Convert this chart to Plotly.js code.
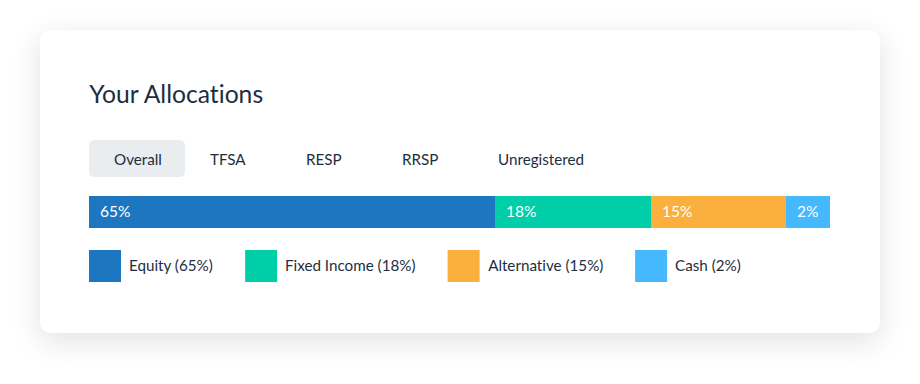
<!DOCTYPE html>
<html>
<head>
<meta charset="utf-8">
<script src="https://cdn.plot.ly/plotly-3.0.1.min.js"></script>
<style>
  html, body { margin: 0; padding: 0; background: #ffffff; width: 920px; height: 384px; overflow: hidden; }
  #card { position: absolute; left: 40px; top: 30px; width: 840px; height: 303px; background: #ffffff;
          border-radius: 10px; box-shadow: 0 8px 30px rgba(0,0,0,0.12); }
  #chart { position: absolute; left: 0; top: 0; width: 920px; height: 384px; }
  #chart text { font-variant-ligatures: none; font-feature-settings: "liga" 0, "clig" 0; }
</style>
</head>
<body>
<div id="card"></div>
<div id="chart"></div>
<script>
// ---- data ----
const chartTitle = "Your Allocations";
const tabs = ["Overall", "TFSA", "RESP", "RRSP", "Unregistered"];
const activeTab = "Overall";
const categories = ["Equity", "Fixed Income", "Alternative", "Cash"];
const percentages = [65, 18, 15, 2];
// share of the bar length each segment occupies
const barShare = [54.8, 21.0, 18.2, 6.0];
const colors = ["#1c77c0", "#00cea8", "#fbaf3c", "#45b9fe"];

// ---- layout helpers (pixel -> paper) ----
const W = 920, H = 384;
const px = x => x / W;
const py = y => 1 - y / H;
const FONT = "Lato, 'Open Sans', sans-serif";
const TEXT = "#1d2e3f";

const canvas = document.createElement("canvas");
const ctx = canvas.getContext("2d");
function textWidth(s, size) { ctx.font = size + "px Lato"; return ctx.measureText(s).width; }

const barLeft = 89, barRight = 830, barTop = 196, barBottom = 228;

const traces = categories.map((c, i) => ({
  type: "bar", orientation: "h", name: c,
  x: [barShare[i]], y: ["alloc"],
  marker: { color: colors[i], line: { width: 0 } },
  width: 1, hoverinfo: "skip", showlegend: false
}));

const annotations = [];
const shapes = [];

// title
annotations.push({ xref: "paper", yref: "paper", x: px(87), y: py(93), xanchor: "left", yanchor: "middle",
  text: chartTitle, showarrow: false, font: { family: FONT, size: 24.7, color: TEXT } });

// tabs
tabs.forEach((t, i) => {
  const left = 89 + 96 * i;
  if (t === activeTab) {
    shapes.push({ type: "path", xref: "paper", yref: "paper", layer: "below",
      path: roundRect(left, 140, 96, 37, 6), fillcolor: "#e9edf0", line: { width: 0 } });
  }
  annotations.push({ xref: "paper", yref: "paper", x: px(left + 23), y: py(159), xanchor: "left", yanchor: "middle",
    text: t, showarrow: false, font: { family: FONT, size: 15.2, color: TEXT } });
});

function roundRect(x, y, w, h, r) {
  const X = v => px(v), Y = v => py(v);
  return `M ${X(x + r)} ${Y(y)} L ${X(x + w - r)} ${Y(y)} Q ${X(x + w)} ${Y(y)} ${X(x + w)} ${Y(y + r)} ` +
    `L ${X(x + w)} ${Y(y + h - r)} Q ${X(x + w)} ${Y(y + h)} ${X(x + w - r)} ${Y(y + h)} ` +
    `L ${X(x + r)} ${Y(y + h)} Q ${X(x)} ${Y(y + h)} ${X(x)} ${Y(y + h - r)} ` +
    `L ${X(x)} ${Y(y + r)} Q ${X(x)} ${Y(y)} ${X(x + r)} ${Y(y)} Z`;
}

// in-bar labels (data coordinates)
let cum = 0;
categories.forEach((c, i) => {
  annotations.push({ xref: "x", yref: "y", x: cum, y: "alloc", xanchor: "left", yanchor: "middle", xshift: 9, yshift: 1,
    text: percentages[i] + "%", showarrow: false, font: { family: FONT, size: 15.5, color: "#ffffff" } });
  cum += barShare[i];
});

// legend (squares + labels laid out from measured text widths)
let lx = 89;
const legendSize = 15.2;
categories.forEach((c, i) => {
  const label = `${c} (${percentages[i]}%)`;
  shapes.push({ type: "rect", xref: "paper", yref: "paper", x0: px(lx), x1: px(lx + 32), y0: py(250), y1: py(282),
    fillcolor: colors[i], line: { width: 0 } });
  annotations.push({ xref: "paper", yref: "paper", x: px(lx + 38), y: py(265), xanchor: "left", yanchor: "middle",
    text: label, showarrow: false, font: { family: FONT, size: legendSize, color: TEXT } });
  lx += 40 + textWidth(label, legendSize) + 32;
});

const layout = {
  width: W, height: H, margin: { l: 0, r: 0, t: 0, b: 0 },
  paper_bgcolor: "rgba(0,0,0,0)", plot_bgcolor: "rgba(0,0,0,0)",
  barmode: "stack", bargap: 0, showlegend: false, hovermode: false,
  xaxis: { domain: [px(barLeft), px(barRight)], range: [0, 100], visible: false, fixedrange: true },
  yaxis: { domain: [py(barBottom), py(barTop)], range: [-0.5, 0.5], visible: false, fixedrange: true, type: "category" },
  annotations, shapes,
  font: { family: FONT }
};

Plotly.newPlot("chart", traces, layout, { displayModeBar: false, staticPlot: true });
</script>
</body>
</html>
